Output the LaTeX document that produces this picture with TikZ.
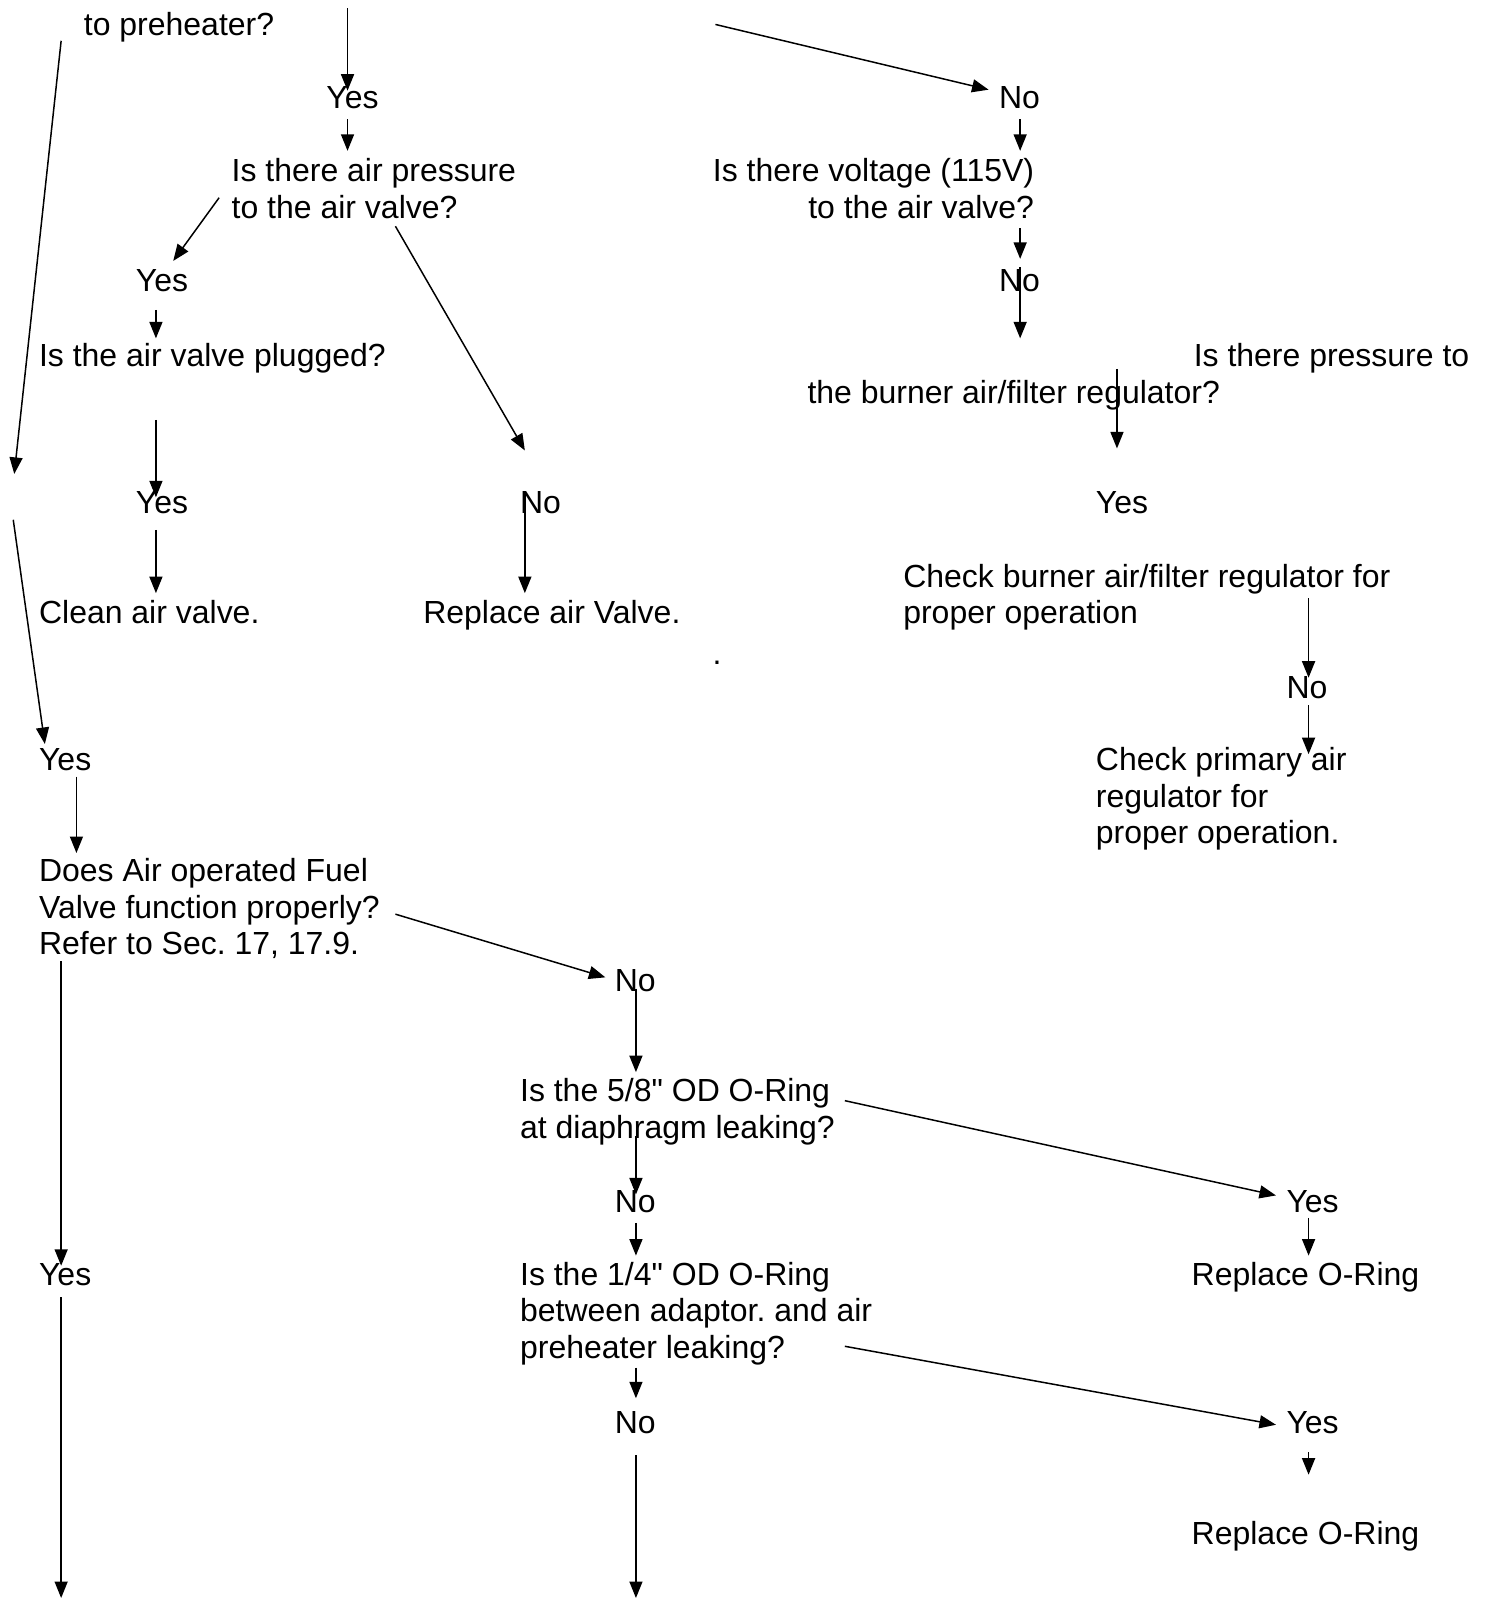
\documentclass[tikz,border=0pt]{standalone}
\usepackage{fontspec}
\setmainfont{Liberation Sans}[Ligatures=TeXOff]
\usetikzlibrary{arrows.meta}
\frenchspacing

\begin{document}
\begin{tikzpicture}[
    x=0.02038cm, y=-0.02038cm,
    txt/.style={font=\fontsize{18.2pt}{20.8pt}\selectfont,
                inner sep=0pt, anchor=base west, align=left},
    rtxt/.style={txt, anchor=base east, align=right},
    flow/.style={->, line width=0.85pt},
    >={Triangle[length=3.3mm,width=2.6mm]}
]
\useasboundingbox (0,0) rectangle (1458,1568);

% --- TOP ---
\node[txt] (topq) at (82,35) {to preheater?};
\node[txt] (yes1) at (320,106) {Yes};
\node[txt] (no1)  at (980,106) {No};

% --- AIR PRESSURE / VOLTAGE ---
\node[txt]  (airq)  at (227,214) {Is there air pressure\\to the air valve?};
\node[rtxt] (voltq) at (1015,214) {Is there voltage (115V)\\to the air valve?};
\node[txt] (yes2) at (133,286) {Yes};
\node[txt] (no2)  at (980,286) {No};
\node[txt] (plugq) at (38,360) {Is the air valve plugged?};
\node[txt] (regqa) at (1171,360) {Is there pressure to};
\node[txt] (regqb) at (792,396) {the burner air/filter regulator?};

% --- ACTIONS ---
\node[txt] (yes3) at (133,504) {Yes};
\node[txt] (no3)  at (510,504) {No};
\node[txt] (yes4) at (1075,504) {Yes};
\node[txt] (clean)   at (38,612) {Clean air valve.};
\node[txt] (replval) at (415,612) {Replace air Valve.};
\node[txt] (chkreg)  at (886,612) {Check burner air/filter regulator for\\proper operation};
\node[txt] (dot) at (699,652) {.};
\node[txt] (no4)  at (1262,685) {No};
\node[txt] (yes5) at (38,756) {Yes};
\node[txt] (chkprim) at (1075,828) {Check primary air\\regulator for\\proper operation.};

% --- FUEL VALVE ---
\node[txt] (fuelq) at (38,937) {Does Air operated Fuel\\Valve function properly?\\Refer to Sec. 17, 17.9.};
\node[txt] (no5) at (603,973) {No};
\node[txt] (ringa) at (510,1117) {Is the 5/8" OD O-Ring\\at diaphragm leaking?};
\node[txt] (no6)  at (603,1190) {No};
\node[txt] (yes6) at (1262,1190) {Yes};
\node[txt] (yes7) at (38,1261) {Yes};
\node[txt] (ringb) at (510,1333) {Is the 1/4" OD O-Ring\\between adaptor. and air\\preheater leaking?};
\node[txt] (repla) at (1169,1261) {Replace O-Ring};
\node[txt] (no7)  at (603,1407) {No};
\node[txt] (yes8) at (1262,1407) {Yes};
\node[txt] (replb) at (1169,1515) {Replace O-Ring};

% free ends
\coordinate (gapa) at (14,465);
\coordinate (gapb) at (13,510);
\coordinate (outa) at (60,1568);
\coordinate (outb) at (624,1568);

% --- CONNECTORS ---
\draw[flow] ([shift={(259,-27)}]topq.base west) -- ([shift={(21,-17)}]yes1.base west);
\draw[flow] ([shift={(620,-11)}]topq.base west) -- ([shift={(-10,-18)}]no1.base west);
\draw[flow] ([shift={(-22,5)}]topq.base west) -- (gapa);
\draw[flow] (gapb) -- ([shift={(6,-26)}]yes5.base west);

\draw[flow] ([shift={(21,11)}]yes1.base west) -- ([shift={(114,-66)}]airq.base west);
\draw[flow] ([shift={(21,11)}]no1.base west) -- ([shift={(-14,-66)}]voltq.base east);
\draw[flow] ([shift={(-12,-20)}]airq.base west) -- ([shift={(37,-30)}]yes2.base west);
\draw[flow] ([shift={(161,8)}]airq.base west) -- ([shift={(5,-62)}]no3.base west);
\draw[flow] ([shift={(-14,10)}]voltq.base east) -- ([shift={(21,-32)}]no2.base west);
\draw[flow] ([shift={(20,18)}]yes2.base west) -- ([shift={(115,-28)}]plugq.base west);
\draw[flow] ([shift={(21,-24)}]no2.base west) -- ([shift={(209,-64)}]regqb.base west);
\draw[flow] ([shift={(304,-34)}]regqb.base west) -- ([shift={(21,-64)}]yes4.base west);
\draw[flow] ([shift={(115,52)}]plugq.base west) -- ([shift={(20,-16)}]yes3.base west);
\draw[flow] ([shift={(5,-22)}]no3.base west) -- ([shift={(100,-30)}]replval.base west);
\draw[flow] ([shift={(20,16)}]yes3.base west) -- ([shift={(115,-30)}]clean.base west);
\draw[flow] ([shift={(398,-25)}]chkreg.base west) -- ([shift={(22,-20)}]no4.base west);
\draw[flow] ([shift={(22,7)}]no4.base west) -- ([shift={(209,-88)}]chkprim.base west);

\draw[flow] ([shift={(37,6)}]yes5.base west) -- ([shift={(37,-100)}]fuelq.base west);
\draw[flow] ([shift={(350,-40)}]fuelq.base west) -- ([shift={(-9,-14)}]no5.base west);
\draw[flow] ([shift={(21,-3)}]no5.base west) -- ([shift={(114,-65)}]ringa.base west);
\draw[flow] ([shift={(319,-37)}]ringa.base west) -- ([shift={(-10,-17)}]yes6.base west);
\draw[flow] ([shift={(114,-2)}]ringa.base west) -- ([shift={(21,-18)}]no6.base west);
\draw[flow] ([shift={(22,5)}]yes6.base west) -- ([shift={(115,-29)}]repla.base west);
\draw[flow] ([shift={(21,10)}]no6.base west) -- ([shift={(114,-101)}]ringb.base west);
\draw[flow] ([shift={(22,6)}]fuelq.base west) -- ([shift={(22,-19)}]yes7.base west);
\draw[flow] ([shift={(22,12)}]yes7.base west) -- (outa);
\draw[flow] ([shift={(319,-12)}]ringb.base west) -- ([shift={(-10,-9)}]yes8.base west);
\draw[flow] ([shift={(114,9)}]ringb.base west) -- ([shift={(21,-35)}]no7.base west);
\draw[flow] ([shift={(22,18)}]yes8.base west) -- ([shift={(115,-68)}]replb.base west);
\draw[flow] ([shift={(21,21)}]no7.base west) -- (outb);

\end{tikzpicture}
\end{document}
